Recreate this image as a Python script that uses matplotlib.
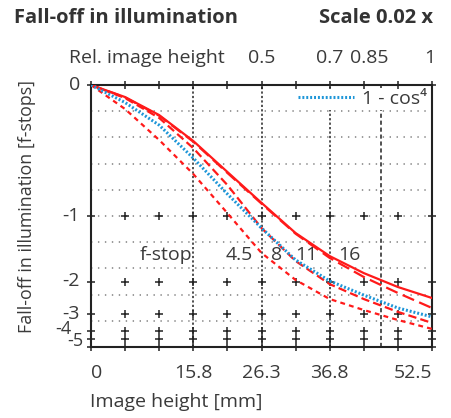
import numpy as np
import matplotlib
matplotlib.use("Agg")
import matplotlib.pyplot as plt

plt.rcParams['font.family'] = ['Open Sans', 'DejaVu Sans']
plt.rcParams['lines.scale_dashes'] = False

# image height in mm (10 divisions of 5.25 mm)
height_mm = [0, 5.25, 10.5, 15.75, 21.0, 26.25, 31.5, 36.75, 42.0, 47.25, 52.5]

# fall-off in f-stops
stops_f45 = [0, -0.139, -0.340, -0.599, -0.969, -1.478, -1.966, -2.450, -2.826, -3.279, -3.857]
stops_f8 = [0, -0.074, -0.194, -0.398, -0.694, -1.139, -1.608, -2.059, -2.450, -2.900, -3.442]
stops_f11 = [0, -0.070, -0.180, -0.352, -0.590, -0.870, -1.210, -1.557, -1.904, -2.278, -2.748]
stops_f16 = [0, -0.068, -0.176, -0.347, -0.582, -0.862, -1.201, -1.527, -1.826, -2.127, -2.419]
stops_cos4 = [0, -0.100, -0.240, -0.472, -0.776, -1.139, -1.590, -1.989, -2.336, -2.747, -3.121]

ytick_stops = [0, -1, -2, -3, -4, -5]
xtick_vals = [0, 15.75, 26.25, 36.75, 52.5]
xtick_labels = ["0", "15.8", "26.3", "36.8", "52.5"]
rel_heights = [0.5, 0.7, 0.85, 1]
fstop_names = ["4.5", "8", "11", "16"]
fstop_label_x = [22.9, 28.5, 33.1, 39.8]

txt = '#3a3a3a'
red = '#ff1a1a'
blue = '#1e96d8'
fs = 14

def illum(s):
    return np.power(2.0, np.array(s))

fig = plt.figure(figsize=(4.51, 4.18), dpi=100)
ax = fig.add_axes([91 / 451, 1 - 347 / 418, 341 / 451, 262 / 418])
ax.set_xlim(0, 52.5)
ax.set_ylim(0, 1)

# dotted horizontal grid at every 0.1 of relative illumination
for v in np.arange(1, 10) / 10:
    ax.axhline(v, color='#8a8a8a', lw=1.2, dashes=(1.0, 4.0), zorder=1)

# vertical guides at rel. image heights
for r in rel_heights[:-1]:
    ax.axvline(r * 52.5, color='#222222', lw=1.1,
               dashes=(3, 2) if r == 0.85 else (1.6, 1.6), zorder=1)
ax.axvline(15.75, color='#222222', lw=1.1, dashes=(1.6, 1.6), zorder=1)

# crosses at divisions and f-stop levels
gx, gy = np.meshgrid(np.arange(11) * 5.25, illum([0, -1, -2, -3, -4, -5] + [-60]))
ax.plot(gx.ravel(), gy.ravel(), '+', color='#222222', ms=6, mew=1.1,
        clip_on=False, zorder=2)

ax.plot(height_mm, illum(stops_f16), color=red, lw=1.6, zorder=4)
ax.plot(height_mm, illum(stops_f11), color=red, lw=1.6, dashes=(9, 4), zorder=4)
ax.plot(height_mm, illum(stops_f8), color=red, lw=1.6, dashes=(6, 3), zorder=4)
ax.plot(height_mm, illum(stops_f45), color=red, lw=1.6, dashes=(3.5, 3), zorder=4)
ax.plot(height_mm, illum(stops_cos4), color=blue, lw=2.2, dashes=(1.4, 1.4),
        zorder=5, label='1 - cos\u2074')

leg = ax.legend(loc='upper right', bbox_to_anchor=(0.99, 0.99), frameon=True,
                fontsize=fs, handlelength=2.9, handletextpad=0.4,
                borderaxespad=0.0, borderpad=0.1, fancybox=False)
leg.get_frame().set_facecolor('white')
leg.get_frame().set_edgecolor('none')
leg.get_frame().set_alpha(1.0)
leg.set_zorder(1.5)
for t in leg.get_texts():
    t.set_color(txt)

for sp in ax.spines.values():
    sp.set_color('#222222')
    sp.set_linewidth(1.5)

ax.set_xticks(xtick_vals)
ax.set_xticklabels(xtick_labels, fontsize=fs, color=txt)
ax.tick_params(axis='x', length=0, pad=12)
xl = ax.get_xticklabels()
xl[0].set_ha('left')
xl[-1].set_ha('right')

ax.set_yticks([])
for s in ytick_stops:
    dx, dy = {-4: (-8, 2), -5: (3, -2)}.get(s, (0, 0))
    ax.annotate(str(s) if s != 0 else "0", xy=(0, 2.0 ** s),
                xycoords=('axes fraction', 'data'),
                xytext=(-11 + dx, dy), textcoords='offset pixels',
                ha='right', va='center', fontsize=fs if s > -4 else 13,
                color=txt)

# top axis: relative image height
ax.text(-22 / 341, 1 + 27 / 262, "Rel. image height", transform=ax.transAxes,
        ha='left', va='center', fontsize=fs, color=txt)
for r in rel_heights:
    lab = "1" if r == 1 else str(r)
    dx = -12 if r == 0.85 else (-2 if r == 1 else 0)
    ax.annotate(lab, xy=(r * 52.5, 1 + 27 / 262),
                xycoords=('data', 'axes fraction'),
                xytext=(dx, 0), textcoords='offset pixels',
                ha='center', va='center', fontsize=fs, color=txt)

# f-stop labels
ax.text(11.6, 0.351, "f-stop", ha='center', va='center', fontsize=fs, color=txt,
        zorder=6)
for name, x in zip(fstop_names, fstop_label_x):
    ax.text(x, 0.351, name, ha='center', va='center', fontsize=fs, color=txt,
            zorder=6)

fig.text(14 / 451, 1 - 18 / 418, "Fall-off in illumination", fontsize=14.5,
         fontweight='bold', color='#333333', ha='left', va='center')
fig.text(433 / 451, 1 - 18 / 418, "Scale 0.02 x", fontsize=14.5,
         fontweight='bold', color='#333333', ha='right', va='center')
fig.text(90 / 451, 1 - 402 / 418, "Image height [mm]", fontsize=fs, color=txt,
         ha='left', va='center')
fig.text(27 / 451, 1 - 207 / 418, "Fall-off in illumination [f-stops]",
         fontsize=12.8, color=txt, rotation=90, ha='center', va='center')

fig.savefig("out.png", dpi=100)
